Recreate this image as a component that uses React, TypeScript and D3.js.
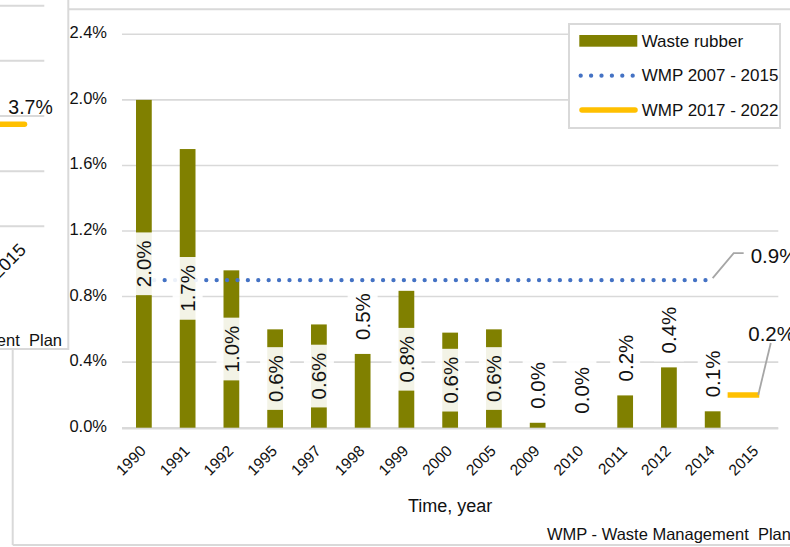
import React from 'react';
import * as d3 from 'd3';

// ---------- data ----------
const categories = ['1990', '1991', '1992', '1995', '1997', '1998', '1999', '2000', '2005', '2009', '2010', '2011', '2012', '2014', '2015'];
const wasteRubber: (number | null)[] = [2.0, 1.7, 0.96, 0.6, 0.63, 0.45, 0.835, 0.58, 0.6, 0.03, 0, 0.197, 0.368, 0.1, null];
const labelPlacement: (string | null)[] = ['center', 'center', 'center', 'center', 'center', 'above', 'center', 'center', 'center', 'above', 'above', 'above', 'above', 'above', null];
const yTicks = [0, 0.4, 0.8, 1.2, 1.6, 2.0, 2.4];
const wmp2007Value = 0.9;
const wmp2007Span = ['1990', '2014'];
const wmp2017Value = 0.2;
const wmp2017Span = ['2014', '2015'];
const legendItems = ['Waste rubber', 'WMP 2007 - 2015', 'WMP 2017 - 2022'];
const leftPanelTicks = [0, 2, 4, 6, 8];
const leftPanelValue = 3.7;
const leftPanelCategories = ['2014', '2015'];
const xTitle = 'Time, year';
const footnote = 'WMP - Waste Management  Plan';

// ---------- style ----------
const OLIVE = '#808000';
const BLUE = '#4472C4';
const GOLD = '#FFC000';
const GRID = '#d9d9d9';
const TEXT = '#111';
const FONT = '"Liberation Sans", Arial, sans-serif';

const fmt = (v: number) => d3.format('.1f')(v) + '%';
const charW: Record<string, number> = { '0': 0.556, '1': 0.556, '2': 0.556, '3': 0.556, '4': 0.556, '5': 0.556, '6': 0.556, '7': 0.556, '8': 0.556, '9': 0.556, '.': 0.278, '%': 0.889 };
const textLen = (s: string, fs: number) => s.split('').reduce((a, c) => a + (charW[c] ?? 0.556), 0) * fs;

export default function App() {
  const x = d3.scaleBand<string>().domain(categories).range([122, 778.3]).paddingInner(0.64).paddingOuter(0.32);
  const step = x.step();
  const cx = (c: string) => (x(c) as number) + x.bandwidth() / 2;
  const y = d3.scaleLinear().domain([0, 2.4]).range([427.7, 34.3]);

  const lblFs = 20.5;
  const boxW = 30;
  const pad = 8;

  // left panel scales
  const ly = d3.scaleLinear().domain([0, 8]).range([226.3, 5.7]);
  const lx = d3.scalePoint<string>().domain(leftPanelCategories).range([22 - step, 22]);

  const orangeX1 = cx(wmp2017Span[0]) + step * 0.32;
  const orangeX2 = cx(wmp2017Span[1]) + step * 0.065;
  const blueEndX = cx(wmp2007Span[1]);
  const blueY = y(wmp2007Value);
  const orangeY = y(wmp2017Value);

  const legX = 569, legY = 24, legW = 211, legH = 104;

  return (
    <svg width={790} height={547} style={{ position: 'absolute', left: 0, top: 0, background: '#fff' }} fontFamily={FONT}>
      <rect x={0} y={0} width={790} height={547} fill="#fff" />
      {/* main chart frame */}
      <path d={`M12.7,${545} L12.7,9.3 L800,9.3 M12.7,545 L800,545`} fill="none" stroke={GRID} strokeWidth={2} />

      {/* gridlines */}
      {yTicks.map(t => (
        <line key={t} x1={122} x2={778.3} y1={y(t)} y2={y(t)} stroke={GRID} strokeWidth={1.6} />
      ))}
      {yTicks.map(t => (
        <text key={'t' + t} x={107} y={y(t) + 4} textAnchor="end" fontSize={16.5} fill={TEXT}>{d3.format('.1f')(t) + '%'}</text>
      ))}

      {/* bars */}
      {categories.map((c, i) => {
        const v = wasteRubber[i];
        if (v == null) return null;
        return <rect key={c} x={x(c)} width={x.bandwidth()} y={y(v)} height={y(0) - y(v)} fill={OLIVE} />;
      })}

      {/* WMP 2007-2015 dotted */}
      <line x1={cx(wmp2007Span[0])} x2={blueEndX} y1={blueY} y2={blueY} stroke={BLUE} strokeWidth={4.3} strokeLinecap="round" strokeDasharray="0 10.4" />
      {/* WMP 2017-2022 */}
      <line x1={orangeX1} x2={orangeX2} y1={orangeY} y2={orangeY} stroke={GOLD} strokeWidth={5.5} />

      {/* data labels */}
      {categories.map((c, i) => {
        const v = wasteRubber[i];
        const p = labelPlacement[i];
        if (v == null || p == null) return null;
        const s = fmt(v);
        const L = textLen(s, lblFs);
        const X = cx(c);
        if (p === 'center') {
          const mid = (y(v) + y(0)) / 2;
          return (
            <g key={'l' + c}>
              <rect x={X - boxW / 2} y={mid - L / 2 - pad} width={boxW} height={L + 2 * pad} fill="#fff" fillOpacity={0.9} />
              <text transform={`translate(${X},${mid}) rotate(-90)`} textAnchor="middle" dy="0.36em" fontSize={lblFs} fill={TEXT}>{s}</text>
            </g>
          );
        }
        const start = y(v) - 14;
        return (
          <g key={'l' + c}>
            <rect x={X - boxW / 2} y={start - L - pad} width={boxW} height={L + pad + 8} fill="#fff" fillOpacity={0.9} />
            <text transform={`translate(${X},${start}) rotate(-90)`} textAnchor="start" dy="0.36em" fontSize={lblFs} fill={TEXT}>{s}</text>
          </g>
        );
      })}

      {/* x axis line */}
      <line x1={122} x2={778.3} y1={y(0) + 1} y2={y(0) + 1} stroke={GRID} strokeWidth={1.6} />
      {categories.map(c => (
        <text key={'x' + c} transform={`translate(${cx(c) + 3},${452}) rotate(-45)`} textAnchor="end" fontSize={15.5} fill={TEXT}>{c}</text>
      ))}
      <text x={(122 + 778.3) / 2} y={512} textAnchor="middle" fontSize={18} fill={TEXT}>{xTitle}</text>
      <text x={547} y={540} fontSize={16.5} fill={TEXT} style={{ whiteSpace: 'pre' }}>{footnote}</text>

      {/* leader + label 0.9% */}
      <polyline points={`${blueEndX},${blueY - 2} ${blueEndX + 21},${blueY - 27} ${blueEndX + 31},${blueY - 27}`} fill="none" stroke="#a6a6a6" strokeWidth={1.8} />
      <text x={blueEndX + 38} y={blueY - 17} fontSize={lblFs} fill={TEXT}>{fmt(wmp2007Value)}</text>
      {/* leader + label 0.2% */}
      <line x1={orangeX2 - 1} y1={orangeY} x2={orangeX2 + 11.5} y2={orangeY - 52} stroke="#a6a6a6" strokeWidth={1.8} />
      <text x={orangeX2 - 11} y={orangeY - 54} fontSize={lblFs} fill={TEXT}>{fmt(wmp2017Value)}</text>

      {/* legend */}
      <rect x={legX} y={legY} width={legW} height={legH} fill="#fff" stroke={GRID} strokeWidth={2} />
      <rect x={579.3} y={35} width={58} height={11.7} fill={OLIVE} />
      <line x1={580.7} x2={633} y1={75.7} y2={75.7} stroke={BLUE} strokeWidth={4.3} strokeLinecap="round" strokeDasharray="0 10.4" />
      <line x1={582} x2={635} y1={110} y2={110} stroke={GOLD} strokeWidth={5.5} strokeLinecap="round" />
      {legendItems.map((t, i) => (
        <text key={t} x={641.7} y={46.7 + i * 34.7} fontSize={17} fill={TEXT}>{t}</text>
      ))}

      {/* left (cropped) panel */}
      <g>
        <rect x={-2} y={-2} width={70.3} height={351} fill="#fff" />
        {leftPanelTicks.map(t => (
          <line key={'lp' + t} x1={0} x2={44.3} y1={ly(t)} y2={ly(t)} stroke={GRID} strokeWidth={2} />
        ))}
        <line x1={-5} x2={(lx('2015') as number) + 2.5} y1={ly(leftPanelValue)} y2={ly(leftPanelValue)} stroke={GOLD} strokeWidth={5.5} strokeLinecap="round" />
        <text x={8.3} y={114} fontSize={19.5} fill={TEXT}>{d3.format('.1f')(leftPanelValue) + '%'}</text>
        <text transform={`translate(${(lx('2015') as number) + 5},${251}) rotate(-45)`} textAnchor="end" fontSize={18} fill={TEXT}>2015</text>
        <text x={62} y={346} textAnchor="end" fontSize={16.5} fill={TEXT} style={{ whiteSpace: 'pre' }}>{footnote}</text>
        <path d="M68.3,-2 L68.3,349 L-2,349" fill="none" stroke={GRID} strokeWidth={2} />
      </g>
    </svg>
  );
}
